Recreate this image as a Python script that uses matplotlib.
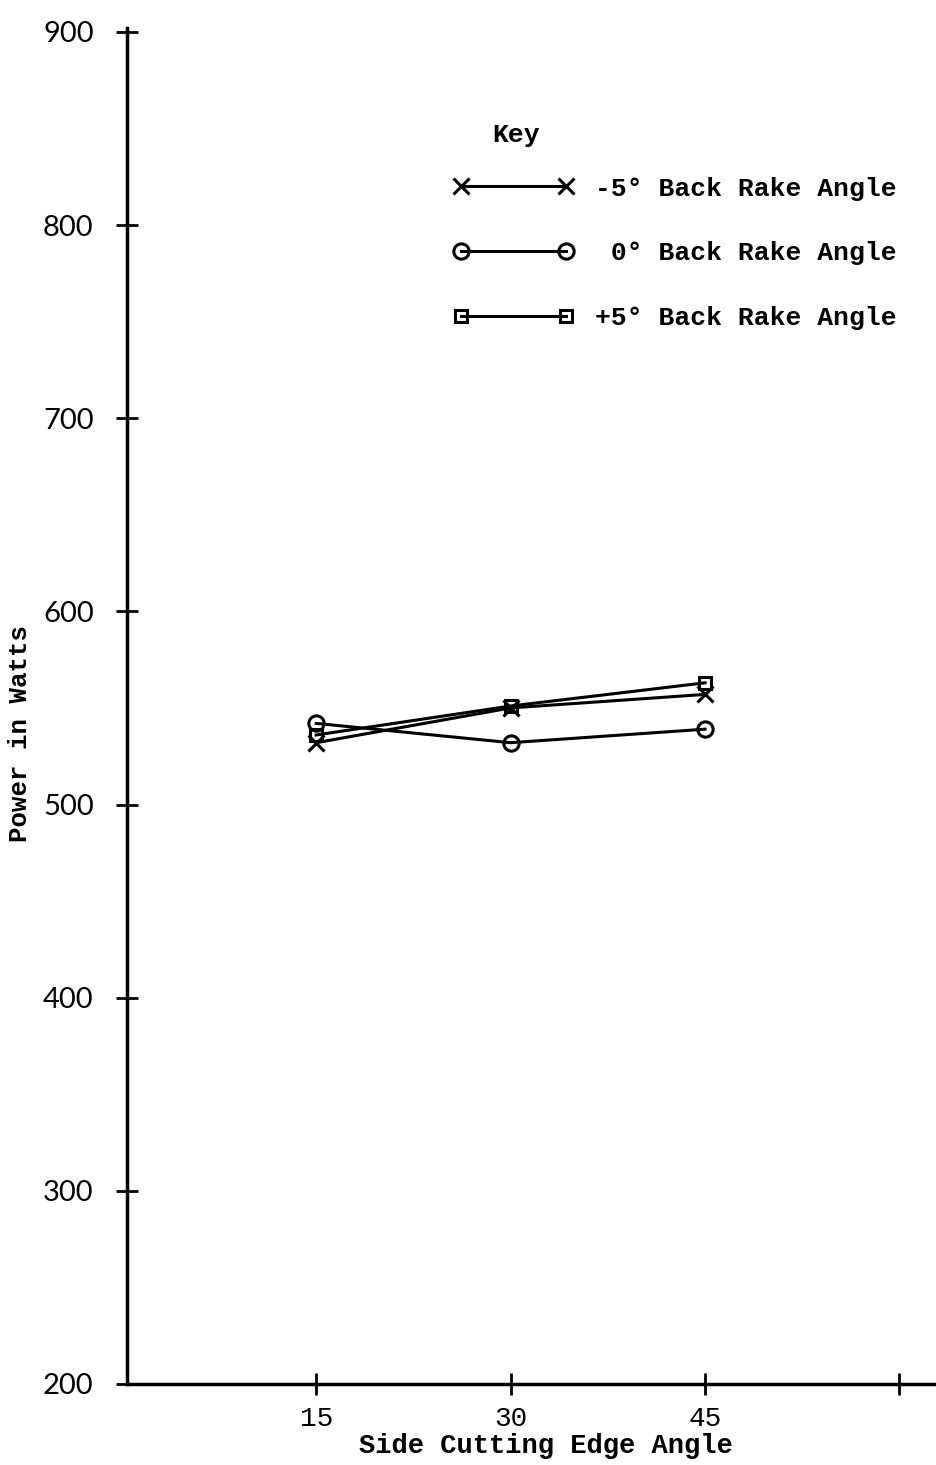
import matplotlib
matplotlib.use("Agg")
import matplotlib.pyplot as plt
from matplotlib.lines import Line2D

# Side cutting edge angle (degrees) and measured power (watts)
angles = [15, 30, 45]
power_neg5 = [532, 550, 557]
power_zero = [542, 532, 539]
power_pos5 = [536, 551, 563]

series_labels = ["-5° Back Rake Angle", " 0° Back Rake Angle", "+5° Back Rake Angle"]
x_ticks = [15, 30, 45, 60]
x_tick_labels = ["15", "30", "45", ""]
y_ticks = [200, 300, 400, 500, 600, 700, 800, 900]

mono = "Liberation Mono"
hand = "Lato"

fig = plt.figure(figsize=(9.37, 14.65), dpi=100)
ax = fig.add_axes([127 / 937, 81 / 1465, (937 - 127) / 937, (1384 - 28) / 1465])

style = dict(color="black", linewidth=2.2, markersize=11, markeredgewidth=2.2,
             markerfacecolor="none")
ax.plot(angles, power_neg5, marker="x", **style)
ax.plot(angles, power_zero, marker="o", **style)
ax.plot(angles, power_pos5, marker="s", **{**style, "markersize": 9})

ax.set_xlim(0.4, 62.9)
ax.set_ylim(200, 902)

for side in ("top", "right"):
    ax.spines[side].set_visible(False)
for side in ("left", "bottom"):
    ax.spines[side].set_linewidth(2.5)

ax.set_xticks(x_ticks)
ax.set_xticklabels(x_tick_labels, fontfamily=mono, fontsize=20)
ax.set_yticks(y_ticks)
ax.set_yticklabels([str(v) for v in y_ticks], fontfamily=hand, fontsize=21)
ax.tick_params(axis="both", direction="inout", length=16, width=2.0)
ax.tick_params(axis="y", pad=16)
ax.tick_params(axis="x", pad=8)

ax.set_xlabel("Side Cutting Edge Angle", fontfamily=mono, fontsize=19.5,
              fontweight="bold")
ax.xaxis.set_label_coords(0.517, -0.036)
ax.set_ylabel("Power in Watts", fontfamily=mono, fontsize=18.5,
              fontweight="bold")
ax.yaxis.set_label_coords(-0.117, 0.48)

# Key
handles = [
    Line2D([], [], marker="x", **style),
    Line2D([], [], marker="o", **style),
    Line2D([], [], marker="s", **{**style, "markersize": 8}),
]
leg = ax.legend(handles, series_labels, loc="upper left",
                bbox_to_anchor=(0.373, 0.908), frameon=False, numpoints=2,
                handlelength=4.6, handletextpad=0.8, labelspacing=1.55,
                prop={"family": mono, "size": 19, "weight": "bold"})
ax.text(0.48, 0.912, "Key", transform=ax.transAxes, fontfamily=mono,
        fontsize=19, fontweight="bold", ha="center", va="bottom")

fig.savefig("out.png", dpi=100, facecolor="white")
